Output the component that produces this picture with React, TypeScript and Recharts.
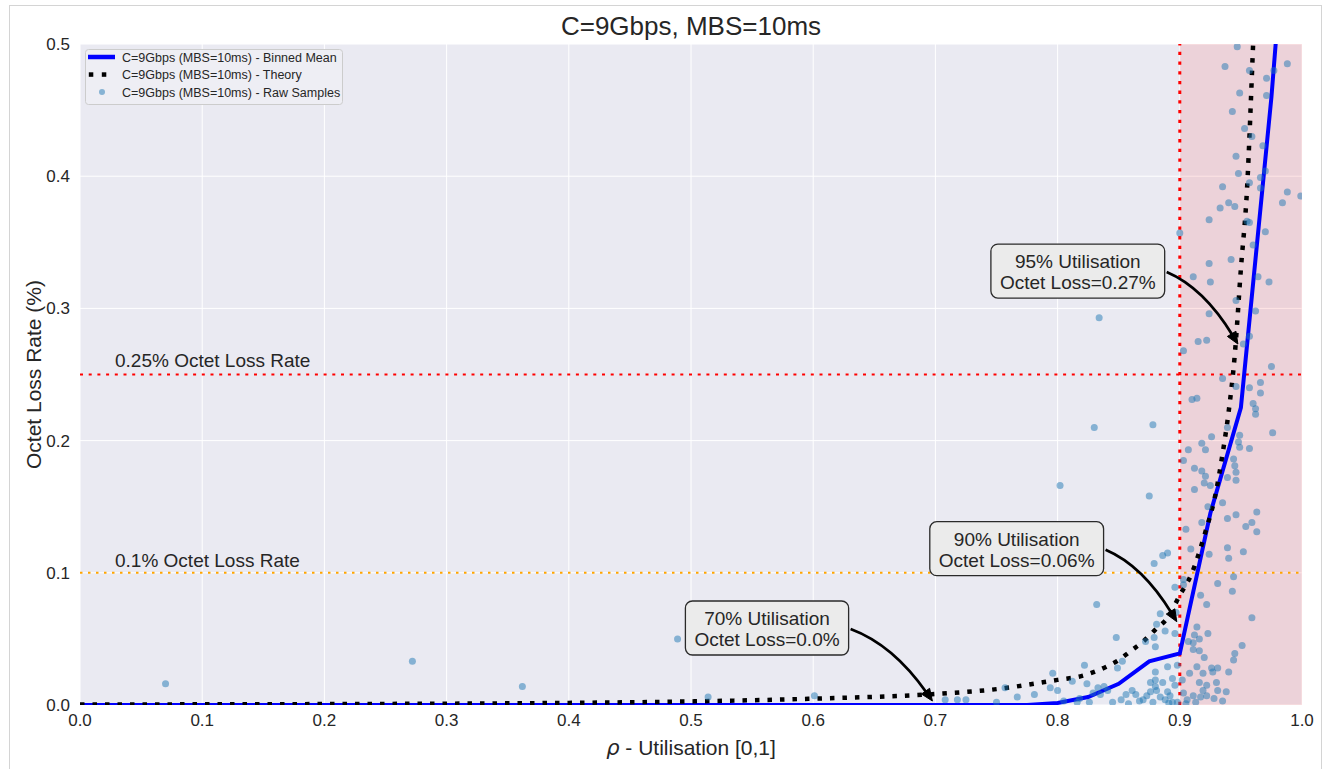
import React from 'react';
import {
  ComposedChart,
  Line,
  Scatter,
  XAxis,
  YAxis,
  CartesianGrid,
  ReferenceLine,
  ReferenceArea,
  ReferenceDot,
  Legend,
} from 'recharts';

// ---------- data ----------
const xTicks = [0, 0.1, 0.2, 0.3, 0.4, 0.5, 0.6, 0.7, 0.8, 0.9, 1.0];
const yTicks = [0, 0.1, 0.2, 0.3, 0.4, 0.5];

const binX = [0, 0.1, 0.2, 0.3, 0.4, 0.5, 0.6, 0.7, 0.775, 0.8, 0.825, 0.85, 0.875, 0.9, 0.925, 0.95, 0.975, 1.0];
const binY = [0, 0, 0, 0, 0, 0, 0, 0, 0, 0.0015, 0.006, 0.016, 0.033, 0.039, 0.145, 0.225, 0.46, 0.75];

const theoryX = [0, 0.1, 0.2, 0.3, 0.4, 0.5, 0.6, 0.7, 0.75, 0.8, 0.82, 0.84, 0.85, 0.86, 0.87, 0.88, 0.89, 0.9, 0.91, 0.92, 0.93, 0.935, 0.94, 0.945, 0.95, 0.955, 0.96, 0.965];
const theoryY = [0.0004, 0.0005, 0.0007, 0.001, 0.0016, 0.0027, 0.0048, 0.0083, 0.012, 0.019, 0.022, 0.029, 0.034, 0.041, 0.048, 0.057, 0.066, 0.083, 0.1, 0.128, 0.163, 0.19, 0.222, 0.265, 0.33, 0.39, 0.5, 0.62];

const rawSamples: [number, number][] = [
  [0.07, 0.016], [0.272, 0.033], [0.362, 0.014], [0.489, 0.05], [0.514, 0.006], [0.601, 0.007],
  [0.708, 0.004], [0.718, 0.004], [0.725, 0.004], [0.75, 0.002], [0.757, 0.013], [0.767, 0.006],
  [0.781, 0.008], [0.794, 0.013], [0.796, 0.024], [0.8, 0.011], [0.802, 0.166], [0.805, 0.003],
  [0.812, 0.018], [0.816, 0.002], [0.818, 0.005], [0.822, 0.03], [0.824, 0.016], [0.826, 0.002],
  [0.829, 0.009], [0.83, 0.21], [0.832, 0.076], [0.833, 0.013], [0.834, 0.293], [0.835, 0.008],
  [0.838, 0.014], [0.841, 0.011], [0.845, 0.002], [0.848, 0.051], [0.849, 0.028], [0.852, 0.004],
  [0.853, 0.033], [0.856, 0.008], [0.858, 0.001], [0.861, 0.011], [0.864, 0.008], [0.867, 0.003],
  [0.87, 0.004], [0.872, 0.048], [0.873, 0.007], [0.875, 0.158], [0.876, 0.01], [0.876, 0.017],
  [0.878, 0.212], [0.878, 0.002], [0.879, 0.107], [0.879, 0.051], [0.88, 0.014], [0.88, 0.019],
  [0.88, 0.025], [0.88, 0.044], [0.881, 0.061], [0.881, 0.011], [0.884, 0.069], [0.884, 0.006],
  [0.886, 0.113], [0.886, 0.017], [0.888, 0.056], [0.888, 0.004], [0.89, 0.115], [0.89, 0.029],
  [0.89, 0.01], [0.891, 0.0015], [0.892, 0.007], [0.894, 0.02], [0.894, 0.002], [0.896, 0.089],
  [0.896, 0.054], [0.896, 0.015], [0.897, 0.07], [0.898, 0.03], [0.898, 0.002], [0.9, 0.357],
  [0.902, 0.019], [0.903, 0.268], [0.903, 0.185], [0.903, 0.095], [0.903, 0.091], [0.903, 0.009],
  [0.905, 0.133], [0.905, 0.001], [0.906, 0.004], [0.907, 0.193], [0.907, 0.048], [0.908, 0.024],
  [0.909, 0.118], [0.91, 0.231], [0.911, 0.324], [0.911, 0.047], [0.911, 0.042], [0.911, 0.007],
  [0.912, 0.179], [0.912, 0.163], [0.912, 0.053], [0.913, 0.002], [0.914, 0.232], [0.914, 0.059],
  [0.914, 0.029], [0.915, 0.275], [0.916, 0.05], [0.916, 0.041], [0.916, 0.017], [0.917, 0.083],
  [0.917, 0.006], [0.918, 0.198], [0.918, 0.177], [0.918, 0.138], [0.919, 0.024], [0.919, 0.011],
  [0.92, 0.168], [0.92, 0.036], [0.921, 0.193], [0.921, 0.173], [0.922, 0.276], [0.922, 0.076],
  [0.922, 0.015], [0.922, 0.007], [0.923, 0.15], [0.923, 0.054], [0.924, 0.367], [0.924, 0.334],
  [0.924, 0.296], [0.924, 0.114], [0.925, 0.32], [0.925, 0.166], [0.926, 0.203], [0.926, 0.028],
  [0.927, 0.025], [0.928, 0.005], [0.93, 0.017], [0.931, 0.092], [0.931, 0.028], [0.931, 0.011],
  [0.933, 0.376], [0.935, 0.392], [0.935, 0.247], [0.935, 0.153], [0.935, 0.003], [0.937, 0.483],
  [0.938, 0.01], [0.939, 0.21], [0.939, 0.172], [0.939, 0.141], [0.939, 0.119], [0.94, 0.38],
  [0.94, 0.111], [0.94, 0.025], [0.942, 0.337], [0.943, 0.449], [0.943, 0.086], [0.944, 0.186],
  [0.944, 0.097], [0.944, 0.034], [0.945, 0.377], [0.945, 0.181], [0.945, 0.039], [0.946, 0.415],
  [0.946, 0.306], [0.946, 0.241], [0.946, 0.176], [0.946, 0.17], [0.946, 0.144], [0.947, 0.498],
  [0.948, 0.402], [0.948, 0.199], [0.949, 0.463], [0.949, 0.204], [0.949, 0.195], [0.951, 0.045],
  [0.952, 0.273], [0.952, 0.116], [0.953, 0.436], [0.954, 0.135], [0.955, 0.366], [0.957, 0.48],
  [0.957, 0.395], [0.957, 0.365], [0.957, 0.279], [0.957, 0.24], [0.957, 0.194], [0.959, 0.43],
  [0.959, 0.138], [0.959, 0.066], [0.96, 0.348], [0.96, 0.228], [0.962, 0.298], [0.962, 0.224],
  [0.962, 0.22], [0.963, 0.146], [0.963, 0.131], [0.964, 0.324], [0.966, 0.399], [0.966, 0.391],
  [0.966, 0.244], [0.966, 0.236], [0.968, 0.423], [0.97, 0.404], [0.97, 0.358], [0.971, 0.474],
  [0.971, 0.461], [0.973, 0.32], [0.975, 0.256], [0.976, 0.206], [0.977, 0.48], [0.984, 0.38],
  [0.988, 0.485], [0.988, 0.388], [0.999, 0.385],
];

const annotations = [
  { x: 0.7, y: 0.0, title: '70% Utilisation', value: 'Octet Loss=0.0%' },
  { x: 0.9, y: 0.06, title: '90% Utilisation', value: 'Octet Loss=0.06%' },
  { x: 0.95, y: 0.27, title: '95% Utilisation', value: 'Octet Loss=0.27%' },
];

const legendLabels = [
  'C=9Gbps (MBS=10ms) - Binned Mean',
  'C=9Gbps (MBS=10ms) - Theory',
  'C=9Gbps (MBS=10ms) - Raw Samples',
];

const titleText = 'C=9Gbps, MBS=10ms';
const yLabelText = 'Octet Loss Rate (%)';

// ---------- derived tables ----------
const binnedData = binX.map((x, i) => ({ x, y: binY[i] }));
const theoryData = theoryX.map((x, i) => ({ x, y: theoryY[i] }));
const rawData = rawSamples.map(([x, y]) => ({ x, y }));

// ---------- styles ----------
const FONT = '"Liberation Sans", Arial, Helvetica, sans-serif';
const TXT = '#262626';

let canvasEl: HTMLCanvasElement | null = null;
function measure(text: string, size: number): number {
  if (typeof document === 'undefined') return text.length * size * 0.55;
  if (!canvasEl) canvasEl = document.createElement('canvas');
  const ctx = canvasEl.getContext('2d');
  if (!ctx) return text.length * size * 0.55;
  ctx.font = `${size}px "Liberation Sans"`;
  return ctx.measureText(text).width;
}

const DotShape = (props: any) => {
  const { cx, cy } = props;
  if (cx == null || cy == null) return null;
  return <circle cx={cx} cy={cy} r={3.5} fill="#1f77b4" fillOpacity={0.5} />;
};

const makeAnnotation = (title: string, value: string) => (props: any) => {
  const { cx, cy } = props;
  if (cx == null || cy == null) return null;
  const fs = 19;
  const w = Math.max(measure(title, fs), measure(value, fs)) + 18;
  const h = 54;
  const left = cx - 250;
  const top = cy - 104;
  const sx = left + w + 2;
  const sy = cy - 76;
  const ex = cx - 3;
  const ey = cy - 4;
  const qx = sx + 0.52 * (ex - sx);
  const qy = sy + 0.22 * (ey - sy);
  const dx = ex - qx;
  const dy = ey - qy;
  const len = Math.hypot(dx, dy) || 1;
  const ux = dx / len;
  const uy = dy / len;
  const hl = 12;
  const hw = 5;
  const bx = ex - ux * hl;
  const by = ey - uy * hl;
  const head = `M${ex},${ey} L${bx - uy * hw},${by + ux * hw} L${bx + uy * hw},${by - ux * hw} Z`;
  return (
    <g>
      <path d={`M${sx},${sy} Q${qx},${qy} ${bx + ux * 2},${by + uy * 2}`} fill="none" stroke="#000" strokeWidth={2.8} />
      <path d={head} fill="#000" stroke="#000" strokeWidth={1} />
      <rect x={left} y={top} width={w} height={h} rx={7} ry={7} fill="#ebebeb" stroke="#2a2a2a" strokeWidth={1.3} />
      <text x={left + w / 2} y={top + 24} textAnchor="middle" fontSize={fs} fill={TXT} fontFamily={FONT}>
        {title}
      </text>
      <text x={left + w / 2} y={top + 45} textAnchor="middle" fontSize={fs} fill={TXT} fontFamily={FONT}>
        {value}
      </text>
    </g>
  );
};

const LegendBox = () => (
  <svg width={258} height={56} style={{ display: 'block' }}>
    <rect x={0.5} y={0.5} width={257} height={55} rx={3} ry={3} fill="#EEEEF4" stroke="#CCCCCC" />
    <line x1={3} x2={30} y1={8} y2={8} stroke="#0000ff" strokeWidth={4.5} />
    <rect x={3.8} y={23.3} width={4.5} height={4.5} fill="#000" />
    <rect x={16.8} y={23.3} width={4.5} height={4.5} fill="#000" />
    <circle cx={17} cy={43} r={3} fill="#1f77b4" fillOpacity={0.5} />
    {legendLabels.map((t, i) => (
      <text key={t} x={37} y={12.5 + i * 17.5} fontSize={12.5} fill={TXT} fontFamily={FONT}>
        {t}
      </text>
    ))}
  </svg>
);

const refLabel = (text: string, lift: number) => (props: any) => {
  const vb = props.viewBox || {};
  return (
    <text x={(vb.x ?? 80) + 35} y={(vb.y ?? 0) - lift} fontSize={19} fill={TXT} fontFamily={FONT}>
      {text}
    </text>
  );
};

const XLabel = (props: any) => {
  const vb = props.viewBox || {};
  return (
    <text x={vb.x + vb.width / 2} y={vb.y + 50} textAnchor="middle" fontSize={21} fill={TXT} fontFamily={FONT}>
      <tspan fontStyle="italic" fontFamily='"DejaVu Sans", sans-serif'>ρ</tspan>
      <tspan> - Utilisation [0,1]</tspan>
    </text>
  );
};

const YLabel = (props: any) => {
  const vb = props.viewBox || {};
  const cx = 33;
  const cy = vb.y + vb.height / 2;
  return (
    <text
      x={cx}
      y={cy}
      transform={`rotate(-90, ${cx}, ${cy})`}
      textAnchor="middle"
      dominantBaseline="central"
      fontSize={21}
      fill={TXT}
      fontFamily={FONT}
    >
      {yLabelText}
    </text>
  );
};

export default function App() {
  return (
    <div
      style={{
        position: 'absolute',
        left: 0,
        top: 0,
        width: 1330,
        height: 769,
        background: '#ffffff',
        fontFamily: FONT,
        overflow: 'hidden',
      }}
    >
      <svg width={1330} height={769} style={{ position: 'absolute', left: 0, top: 0, pointerEvents: 'none' }}>
        <rect x={9.5} y={5.5} width={1312} height={800} fill="none" stroke="#d4d4d4" strokeWidth={1} />
        <text x={691} y={35} textAnchor="middle" fontSize={26} fill={TXT} fontFamily={FONT}>
          {titleText}
        </text>
      </svg>
      <div style={{ position: 'absolute', left: 0, top: 0 }}>
        <ComposedChart width={1330} height={769} margin={{ top: 44, right: 28, bottom: 24, left: 0 }}>
          <CartesianGrid stroke="#ffffff" strokeWidth={1} fill="#EAEAF2" />
          <XAxis
            type="number"
            dataKey="x"
            domain={[0, 1]}
            ticks={xTicks}
            interval={0}
            allowDataOverflow
            tickFormatter={(v: number) => v.toFixed(1)}
            axisLine={false}
            tickLine={false}
            tickMargin={3}
            tick={{ fill: TXT, fontSize: 17, fontFamily: FONT }}
            height={40}
            label={{ content: XLabel }}
          />
          <YAxis
            type="number"
            dataKey="y"
            domain={[0, 0.5]}
            ticks={yTicks}
            interval={0}
            allowDataOverflow
            tickFormatter={(v: number) => v.toFixed(1)}
            axisLine={false}
            tickLine={false}
            tickMargin={4}
            tick={{ fill: TXT, fontSize: 17, fontFamily: FONT }}
            width={80}
            label={{ content: YLabel }}
          />
          <ReferenceArea x1={0.9} x2={1.0} y1={0} y2={0.5} fill="#ff0000" fillOpacity={0.1} stroke="none" />
          <ReferenceLine
            y={0.25}
            stroke="#ff0000"
            strokeWidth={2.2}
            strokeDasharray="3 5.7"
            label={{ content: refLabel('0.25% Octet Loss Rate', 8) }}
          />
          <ReferenceLine
            y={0.1}
            stroke="#FFA500"
            strokeWidth={2}
            strokeDasharray="2.5 5.5"
            label={{ content: refLabel('0.1% Octet Loss Rate', 6) }}
          />
          <ReferenceLine x={0.9} stroke="#ff0000" strokeWidth={3} strokeDasharray="3.3 6.4" />
          <Scatter data={rawData} dataKey="y" shape={DotShape} isAnimationActive={false} legendType="none" />
          <Line
            data={binnedData}
            dataKey="y"
            type="linear"
            stroke="#0000ff"
            strokeWidth={4}
            dot={false}
            activeDot={false}
            isAnimationActive={false}
            legendType="none"
          />
          <Line
            data={theoryData}
            dataKey="y"
            type="monotone"
            stroke="#000000"
            strokeWidth={4.5}
            strokeDasharray="4.5 8"
            dot={false}
            activeDot={false}
            isAnimationActive={false}
            legendType="none"
          />
          {annotations.map((a) => (
            <ReferenceDot
              key={a.title}
              x={a.x}
              y={a.y}
              r={0}
              ifOverflow="visible"
              shape={makeAnnotation(a.title, a.value)}
            />
          ))}
          <Legend
            layout="vertical"
            align="center"
            verticalAlign="middle"
            content={() => <LegendBox />}
            wrapperStyle={{ left: 85, top: 49, width: 258, height: 56 }}
          />
        </ComposedChart>
      </div>
    </div>
  );
}
